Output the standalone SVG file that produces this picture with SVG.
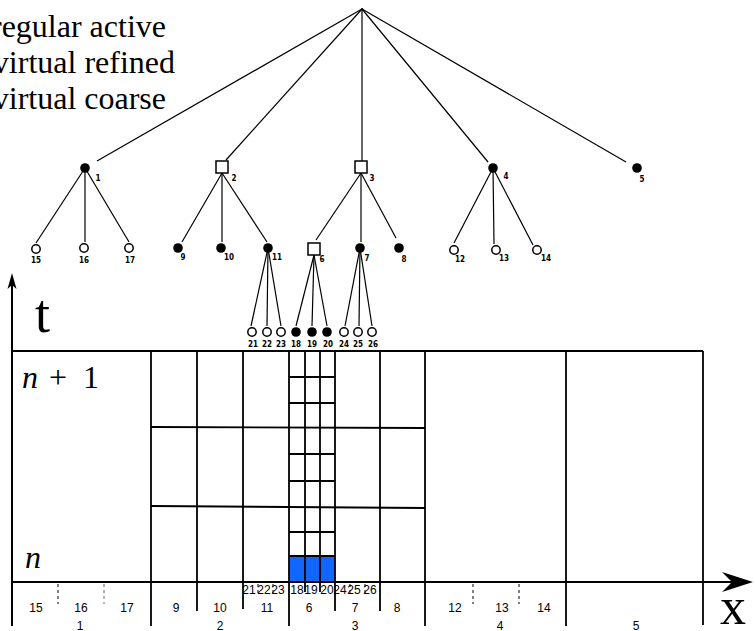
<svg xmlns="http://www.w3.org/2000/svg" width="755" height="631" viewBox="0 0 755 631">
<style>
.e{stroke:#000;stroke-width:1.2;fill:none}
.g{stroke:#000;stroke-width:1.8;fill:none}
.ax{stroke:#000;stroke-width:2;fill:none}
.f{fill:#000}
.o{fill:#fff;stroke:#000;stroke-width:1.5}
.sq{fill:#fff;stroke:#000;stroke-width:1.5}
.tl{font-family:"Liberation Sans Narrow","DejaVu Sans Condensed","Liberation Sans",sans-serif;font-weight:bold;font-size:8px;text-anchor:middle}
.bl{font-family:"Liberation Sans",Arial,sans-serif;font-size:12px;text-anchor:middle}
.sr{font-family:"Liberation Serif","Times New Roman",serif}
.dash{stroke:#000;stroke-width:1;stroke-dasharray:3,3}
</style>
<rect width="755" height="631" fill="#fff"/>
<g id="legend" class="sr" font-size="32" text-anchor="end">
<text x="166" y="37">regular active</text>
<text x="175" y="73">virtual refined</text>
<text x="166" y="109">virtual coarse</text>
</g>
<g id="connectors" class="e">
<line x1="362" y1="9" x2="97" y2="161"/>
<line x1="362" y1="9" x2="226" y2="160"/>
<line x1="362" y1="9" x2="362" y2="161"/>
<line x1="362" y1="9" x2="488" y2="162"/>
<line x1="362" y1="9" x2="626" y2="162"/>
<line x1="85" y1="168" x2="36" y2="243"/>
<line x1="85" y1="168" x2="85" y2="242"/>
<line x1="85" y1="168" x2="129" y2="242"/>
<line x1="222" y1="173" x2="182" y2="242"/>
<line x1="222" y1="173" x2="222" y2="242"/>
<line x1="222" y1="173" x2="267" y2="242"/>
<line x1="361" y1="173" x2="316" y2="240"/>
<line x1="361" y1="173" x2="361" y2="242"/>
<line x1="361" y1="173" x2="396" y2="238"/>
<line x1="493" y1="168" x2="454" y2="243"/>
<line x1="493" y1="168" x2="494" y2="244"/>
<line x1="493" y1="168" x2="533" y2="245"/>
<line x1="268" y1="248" x2="251" y2="326"/>
<line x1="268" y1="248" x2="267" y2="326"/>
<line x1="268" y1="248" x2="281" y2="326"/>
<line x1="314" y1="255" x2="296" y2="326"/>
<line x1="314" y1="255" x2="312" y2="326"/>
<line x1="314" y1="255" x2="327" y2="326"/>
<line x1="360" y1="248" x2="345" y2="326"/>
<line x1="360" y1="248" x2="359" y2="326"/>
<line x1="360" y1="248" x2="372" y2="326"/>
</g>
<g id="root"><circle cx="362" cy="9" r="1" class="f"/></g>
<g id="n1"><circle cx="85" cy="168" r="4.8" class="f"/><text x="98" y="181" class="tl">1</text></g>
<g id="n2"><rect x="216" y="161" width="12" height="12" class="sq"/><text x="234" y="181" class="tl">2</text></g>
<g id="n3"><rect x="355" y="161" width="12" height="12" class="sq"/><text x="372" y="181" class="tl">3</text></g>
<g id="n4"><circle cx="493" cy="168" r="4.8" class="f"/><text x="506" y="179" class="tl">4</text></g>
<g id="n5"><circle cx="637" cy="168" r="4.8" class="f"/><text x="642" y="182" class="tl">5</text></g>
<g id="n15"><circle cx="36" cy="249" r="4.2" class="o"/><text x="36" y="263" class="tl">15</text></g>
<g id="n16"><circle cx="84" cy="248" r="4.2" class="o"/><text x="84" y="263" class="tl">16</text></g>
<g id="n17"><circle cx="129" cy="248" r="4.2" class="o"/><text x="130" y="263" class="tl">17</text></g>
<g id="n9"><circle cx="178" cy="248" r="4.8" class="f"/><text x="183" y="260" class="tl">9</text></g>
<g id="n10"><circle cx="221" cy="248" r="4.8" class="f"/><text x="229" y="260" class="tl">10</text></g>
<g id="n11"><circle cx="268" cy="248" r="4.8" class="f"/><text x="277" y="260" class="tl">11</text></g>
<g id="n6"><rect x="308" y="243" width="12" height="12" class="sq"/><text x="322" y="262" class="tl">6</text></g>
<g id="n7"><circle cx="360" cy="248" r="4.8" class="f"/><text x="367" y="261" class="tl">7</text></g>
<g id="n8"><circle cx="399" cy="248" r="4.8" class="f"/><text x="404" y="262" class="tl">8</text></g>
<g id="n12"><circle cx="454" cy="250" r="4.2" class="o"/><text x="460" y="262" class="tl">12</text></g>
<g id="n13"><circle cx="496" cy="250" r="4.2" class="o"/><text x="504" y="261" class="tl">13</text></g>
<g id="n14"><circle cx="537" cy="250" r="4.2" class="o"/><text x="546" y="261" class="tl">14</text></g>
<g id="n21"><circle cx="252" cy="332" r="4.2" class="o"/><text x="253" y="347" class="tl">21</text></g>
<g id="n22"><circle cx="267" cy="332" r="4.2" class="o"/><text x="267" y="347" class="tl">22</text></g>
<g id="n23"><circle cx="281" cy="332" r="4.2" class="o"/><text x="281" y="347" class="tl">23</text></g>
<g id="n18"><circle cx="296" cy="332" r="4.8" class="f"/><text x="296" y="347" class="tl">18</text></g>
<g id="n19"><circle cx="312" cy="332" r="4.8" class="f"/><text x="312" y="347" class="tl">19</text></g>
<g id="n20"><circle cx="327" cy="332" r="4.8" class="f"/><text x="328" y="347" class="tl">20</text></g>
<g id="n24"><circle cx="344" cy="332" r="4.2" class="o"/><text x="344" y="347" class="tl">24</text></g>
<g id="n25"><circle cx="358" cy="332" r="4.2" class="o"/><text x="358" y="347" class="tl">25</text></g>
<g id="n26"><circle cx="372" cy="332" r="4.2" class="o"/><text x="373" y="347" class="tl">26</text></g>
<g id="grid">
<rect x="289" y="556" width="46" height="26" fill="#1166ff"/>
<line x1="11" y1="351" x2="703" y2="351" class="g"/>
<line x1="151" y1="351" x2="151" y2="626" class="g"/>
<line x1="197" y1="351" x2="197" y2="611" class="g"/>
<line x1="243" y1="351" x2="243" y2="609" class="g"/>
<line x1="289" y1="351" x2="289" y2="626" class="g"/>
<line x1="305" y1="351" x2="305" y2="592" class="g"/>
<line x1="320" y1="351" x2="320" y2="592" class="g"/>
<line x1="335" y1="351" x2="335" y2="611" class="g"/>
<line x1="380" y1="351" x2="380" y2="611" class="g"/>
<line x1="425" y1="351" x2="425" y2="626" class="g"/>
<line x1="566" y1="351" x2="566" y2="626" class="g"/>
<line x1="703" y1="351" x2="703" y2="625" class="g"/>
<line x1="151" y1="427" x2="425" y2="428" class="g"/>
<line x1="151" y1="506" x2="425" y2="508" class="g"/>
<line x1="289" y1="377" x2="335" y2="377" class="g"/>
<line x1="289" y1="403" x2="335" y2="403" class="g"/>
<line x1="289" y1="454" x2="335" y2="454" class="g"/>
<line x1="289" y1="481" x2="335" y2="481" class="g"/>
<line x1="289" y1="532" x2="335" y2="532" class="g"/>
<line x1="289" y1="556" x2="335" y2="556" class="g"/>
<line x1="58" y1="584" x2="58" y2="604" class="dash"/>
<line x1="104" y1="584" x2="104" y2="604" class="dash" stroke-opacity="0.6"/>
<line x1="473" y1="584" x2="473" y2="604" class="dash"/>
<line x1="519" y1="584" x2="519" y2="604" class="dash"/>
<line x1="258" y1="584" x2="258" y2="593" class="dash" stroke-dasharray="2,2"/>
<line x1="273" y1="584" x2="273" y2="593" class="dash" stroke-dasharray="2,2"/>
<line x1="350" y1="584" x2="350" y2="593" class="dash" stroke-dasharray="2,2"/>
<line x1="365" y1="584" x2="365" y2="593" class="dash" stroke-dasharray="2,2"/>
</g>
<g id="axes">
<line x1="12" y1="283" x2="12" y2="626" class="ax"/>
<path d="M12 273 L16.5 289 L12 285 L7.5 289 Z" class="f"/>
<line x1="11" y1="582" x2="735" y2="582" class="ax"/>
<path d="M753 582 L722 572 L732 582 L722 592 Z" class="f"/>
<text x="35" y="332" class="sr" font-size="54">t</text>
<text x="720" y="624" class="sr" font-size="52">x</text>
<text x="22" y="388" class="sr" font-size="32"><tspan font-style="italic">n</tspan><tspan x="49">+</tspan><tspan x="83">1</tspan></text>
<text x="25" y="568" class="sr" font-size="32" font-style="italic">n</text>
</g>
<g id="xlabels" class="bl">
<text x="36" y="612">15</text><text x="81" y="612">16</text><text x="127" y="612">17</text>
<text x="176" y="612">9</text><text x="220" y="612">10</text><text x="267" y="612">11</text>
<text x="309" y="612">6</text><text x="355" y="612">7</text><text x="397" y="612">8</text>
<text x="455" y="612">12</text><text x="502" y="612">13</text><text x="544" y="612">14</text>
<text x="80" y="630">1</text><text x="220" y="630">2</text><text x="355" y="630">3</text><text x="500" y="630">4</text><text x="636" y="630">5</text>
<text x="249" y="594">21</text><text x="264" y="594">22</text><text x="278" y="594">23</text>
<text x="297" y="594">18</text><text x="311" y="594">19</text><text x="327" y="594">20</text>
<text x="340" y="594">24</text><text x="354" y="594">25</text><text x="370" y="594">26</text>
</g>
</svg>
